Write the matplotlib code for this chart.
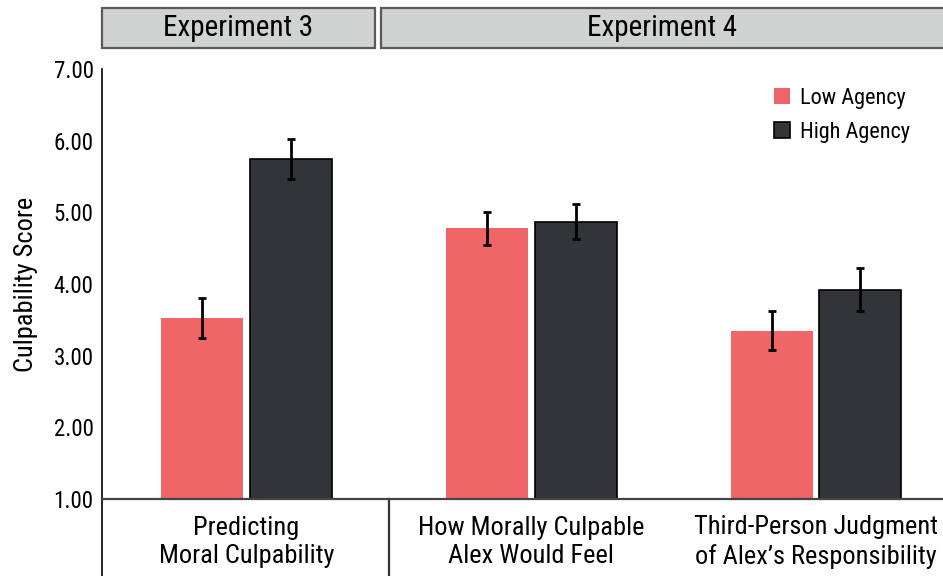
import matplotlib
matplotlib.use("Agg")
import matplotlib.pyplot as plt
from matplotlib import font_manager as fm
from matplotlib.patches import Rectangle
import numpy as np

# data
categories = [
    "Predicting\nMoral Culpability",
    "How Morally Culpable\nAlex Would Feel",
    "Third-Person Judgment\nof Alex\u2019s Responsibility",
]
low_means = [3.53, 4.78, 3.35]
low_errs = [0.28, 0.23, 0.27]
high_means = [5.74, 4.87, 3.92]
high_errs = [0.28, 0.24, 0.30]
series_labels = ["Low Agency", "High Agency"]
experiments = ["Experiment 3", "Experiment 4"]
yticks = [1, 2, 3, 4, 5, 6, 7]

LOW_COLOR = "#f06568"
HIGH_COLOR = "#333438"


def pick_font():
    # the original uses a condensed grotesque; take the narrowest one we have
    entries = fm.fontManager.ttflist
    names = {f.name for f in entries}
    if "Roboto Condensed" in names:
        return "Roboto Condensed", "normal", 1.0
    if "Liberation Sans Narrow" in names:
        return "Liberation Sans Narrow", "normal", 1.0
    for f in entries:
        if f.name == "DejaVu Sans" and "condensed" in str(f.stretch):
            return "DejaVu Sans", "condensed", 0.84
    if "Roboto" in names:
        return "Roboto", "normal", 0.88
    return "DejaVu Sans", "normal", 0.78


family, stretch, k = pick_font()
plt.rcParams["font.family"] = [family, "DejaVu Sans"]
plt.rcParams["font.stretch"] = stretch

W, H = 943, 576
fig = plt.figure(figsize=(W / 100, H / 100), dpi=100)
ax = fig.add_axes([102 / W, 77 / H, 841 / W, 430 / H])

x = np.arange(len(categories))
width = 0.288
off = 0.156

err_kw = dict(ecolor="black", elinewidth=2, capsize=2.6, capthick=2)
ax.bar(x - off, low_means, width, yerr=low_errs, color=LOW_COLOR,
       label=series_labels[0], error_kw=err_kw, zorder=2)
ax.bar(x + off, high_means, width, yerr=high_errs, color=HIGH_COLOR,
       edgecolor="black", linewidth=1.2, label=series_labels[1],
       error_kw=err_kw, zorder=2)

ax.set_xlim(-0.507, 2.446)
ax.set_ylim(1, 7)
ax.set_yticks(yticks)
ax.set_yticklabels([f"{t:.2f}" for t in yticks])
ax.tick_params(axis="y", length=0, pad=6, labelsize=16.5 * k)
ax.set_xticks([])

ax.spines["top"].set_visible(False)
ax.spines["right"].set_visible(False)
ax.spines["left"].set_linewidth(1.2)
ax.spines["bottom"].set_color("#444444")
ax.spines["bottom"].set_linewidth(1.6)

ax.set_ylabel("Culpability Score", fontsize=19 * k)
ax.yaxis.set_label_coords(-0.076, 0.5)

# table-like area under the axis
ax.axvline(-0.507, ymin=-0.2, ymax=0, color="black", lw=1.2, clip_on=False)
ax.axvline(0.5, ymin=-0.2, ymax=0, color="#333333", lw=1.6, clip_on=False)
for xi, cat in zip(x, categories):
    ax.text(xi, -0.1, cat, transform=ax.get_xaxis_transform(),
            ha="center", va="center", fontsize=19 * k, linespacing=1.22)

# experiment header boxes
top, bottom = 8, 47.7
for (x0, x1), label in zip([(102, 375), (380.5, 950)], experiments):
    fig.patches.append(Rectangle((x0 / W, 1 - bottom / H), (x1 - x0) / W,
                                 (bottom - top) / H, transform=fig.transFigure,
                                 facecolor="#d1d3d2", edgecolor="#5a5a5a",
                                 linewidth=1.6))
    cx = (x0 + min(x1, W)) / 2
    fig.text(cx / W, 1 - (top + bottom) / 2 / H, label, ha="center",
             va="center", fontsize=21 * k)

leg = ax.legend(loc="upper right", bbox_to_anchor=(0.984, 1.003), frameon=False,
                fontsize=16 * k, handlelength=0.7, handleheight=0.7,
                handletextpad=0.45, labelspacing=0.58)

fig.savefig("out.png", dpi=100)
